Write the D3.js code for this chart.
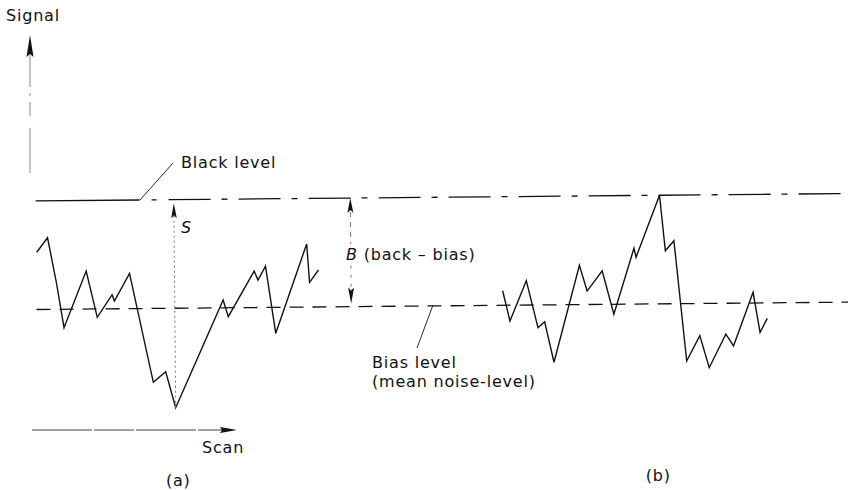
<!DOCTYPE html>
<html>
<head>
<meta charset="utf-8">
<script src="https://cdn.jsdelivr.net/npm/d3@7"></script>
<style>
  body { margin: 0; background: #fff; }
  text { font-family: "DejaVu Sans", sans-serif; font-size: 16px; letter-spacing: 0.8px; fill: #111; }
</style>
</head>
<body>
<svg id="fig" width="848" height="490"></svg>
<script>
// Scan position (0–100 across the figure) and signal amplitude
// (0 = bias level, 1 = black level) for the two noise traces.
const scanA   = [4.33, 5.62, 6.60, 7.47, 10.14, 11.40, 13.17, 13.44, 15.25, 17.94, 19.41, 20.55, 26.26, 26.85, 29.95, 30.39, 31.29, 32.43, 36.17, 36.47, 37.54];
const signalA = [0.527, 0.660, 0.254, -0.170, 0.350, -0.077, 0.130, 0.072, 0.325, -0.680, -0.584, -0.916, 0.072, -0.082, 0.336, 0.253, 0.381, -0.239, 0.581, 0.227, 0.340];
const scanB   = [59.23, 60.06, 62.03, 63.36, 64.15, 65.21, 68.31, 69.19, 70.99, 72.32, 74.76, 75.00, 77.83, 78.46, 79.48, 80.86, 82.43, 83.51, 85.50, 86.40, 88.76, 89.54, 90.41];
const signalB = [0.134, -0.145, 0.225, -0.209, -0.155, -0.529, 0.362, 0.124, 0.308, -0.092, 0.514, 0.431, 1.0, 0.489, 0.580, -0.528, -0.296, -0.592, -0.285, -0.394, 0.099, -0.270, -0.142];

// Reference levels
const levelNames  = ["Black level", "Bias level"];
const levelValues = [1, 0];
const levelExtent = [4.25, 100];

// Signal difference S (trace a minimum up to black level) and back-bias B
const sScan = 20.55, sRange = [-0.916, 0.966];
const bScan = 41.36, bRange = [0.03, 1.0];

const panelLabels = ["(a)", "(b)"];
const panelScan   = [21.03, 77.63];

const W = 848, H = 490;
const svg = d3.select("#fig");

const x = d3.scaleLinear().domain([0, 100]).range([0, W]);
const y = d3.scaleLinear().domain([0, 1]).range([306, 197.4]);

// the drawing is set very slightly askew
const plot = svg.append("g").attr("transform", "rotate(-0.52,424,250)");

// reference levels: black level is chain-dotted after a solid lead-in,
// bias level is plain dashed
const chain = ["104", "12", "5", "12"].concat(d3.range(14).flatMap(() => ["42", "11", "6", "11"])).join(",");
const levelDash = [chain, "14,9"];
levelValues.forEach((v, i) => {
  plot.append("line")
    .attr("x1", x(levelExtent[0])).attr("x2", x(levelExtent[1]))
    .attr("y1", y(v)).attr("y2", y(v))
    .attr("stroke", "#111").attr("stroke-width", 1.3)
    .attr("stroke-dasharray", levelDash[i]);
});

// noise traces
const line = d3.line().x(d => x(d[0])).y(d => y(d[1]));
[[scanA, signalA], [scanB, signalB]].forEach(([xs, ys]) => {
  plot.append("path")
    .datum(xs.map((v, i) => [v, ys[i]]))
    .attr("d", line)
    .attr("fill", "none").attr("stroke", "#111")
    .attr("stroke-width", 1.4).attr("stroke-linejoin", "miter");
});

// helpers for arrowheads
function headUp(g, cx, tip, len, hw) {
  g.append("path").attr("d", `M${cx},${tip}L${cx - hw},${tip + len}L${cx},${tip + len - 3}L${cx + hw},${tip + len}Z`).attr("fill", "#111");
}
function headDown(g, cx, tip, len, hw) {
  g.append("path").attr("d", `M${cx},${tip}L${cx - hw},${tip - len}L${cx},${tip - len + 3}L${cx + hw},${tip - len}Z`).attr("fill", "#111");
}

// S arrow
plot.append("line")
  .attr("x1", x(sScan)).attr("x2", x(sScan))
  .attr("y1", y(sRange[0])).attr("y2", y(sRange[1]) + 12)
  .attr("stroke", "#777").attr("stroke-width", 1).attr("stroke-dasharray", "2,3");
headUp(plot, x(sScan), y(sRange[1]), 15, 2.8);

// B arrow (broken around its label)
const bx = x(bScan);
const bTop = y(bRange[1]), bBot = y(bRange[0]);
plot.append("line").attr("x1", bx).attr("x2", bx).attr("y1", bTop + 14).attr("y2", 243)
  .attr("stroke", "#777").attr("stroke-width", 1).attr("stroke-dasharray", "5,5");
plot.append("line").attr("x1", bx).attr("x2", bx).attr("y1", 265).attr("y2", bBot - 14)
  .attr("stroke", "#777").attr("stroke-width", 1).attr("stroke-dasharray", "3,6");
headUp(plot, bx, bTop, 15, 3);
headDown(plot, bx, bBot, 16, 3);

// Signal axis arrow
svg.append("line").attr("x1", 30).attr("x2", 30).attr("y1", 173).attr("y2", 55)
  .attr("stroke", "#888").attr("stroke-width", 1).attr("stroke-dasharray", "45,12,14,6,3,6");
headUp(svg, 30, 35, 22, 3.5);
svg.append("text").attr("x", 6).attr("y", 21).text("Signal");

// Scan arrow
svg.append("line").attr("x1", 32).attr("x2", 222).attr("y1", 430).attr("y2", 430)
  .attr("stroke", "#444").attr("stroke-width", 1.1).attr("stroke-dasharray", "60,2,40,2");
svg.append("path").attr("d", "M237,430L220,427L222,430L220,433Z").attr("fill", "#111");
svg.append("text").attr("x", 202).attr("y", 453).text("Scan");

// level labels with leader lines
svg.append("line").attr("x1", 173).attr("y1", 163).attr("x2", 140).attr("y2", 200)
  .attr("stroke", "#111").attr("stroke-width", 0.9);
svg.append("text").attr("x", 181).attr("y", 168).text(levelNames[0]);

svg.append("line").attr("x1", 433).attr("y1", 305).attr("x2", 417).attr("y2", 348)
  .attr("stroke", "#111").attr("stroke-width", 0.9);
svg.append("text").attr("x", 372).attr("y", 368).text(levelNames[1]);
svg.append("text").attr("x", 372).attr("y", 386.5).text("(mean noise-level)");

// S and B annotations
svg.append("text").attr("x", 181).attr("y", 233).attr("font-style", "italic").text("S");
const bLabel = svg.append("text").attr("x", 346).attr("y", 259.5);
bLabel.append("tspan").attr("font-style", "italic").text("B");
bLabel.append("tspan").text(" (back – bias)");

// panel labels
const panelBase = [486, 481];
panelLabels.forEach((t, i) => {
  svg.append("text").attr("x", x(panelScan[i])).attr("y", panelBase[i])
    .attr("text-anchor", "middle").text(t);
});
</script>
</body>
</html>
